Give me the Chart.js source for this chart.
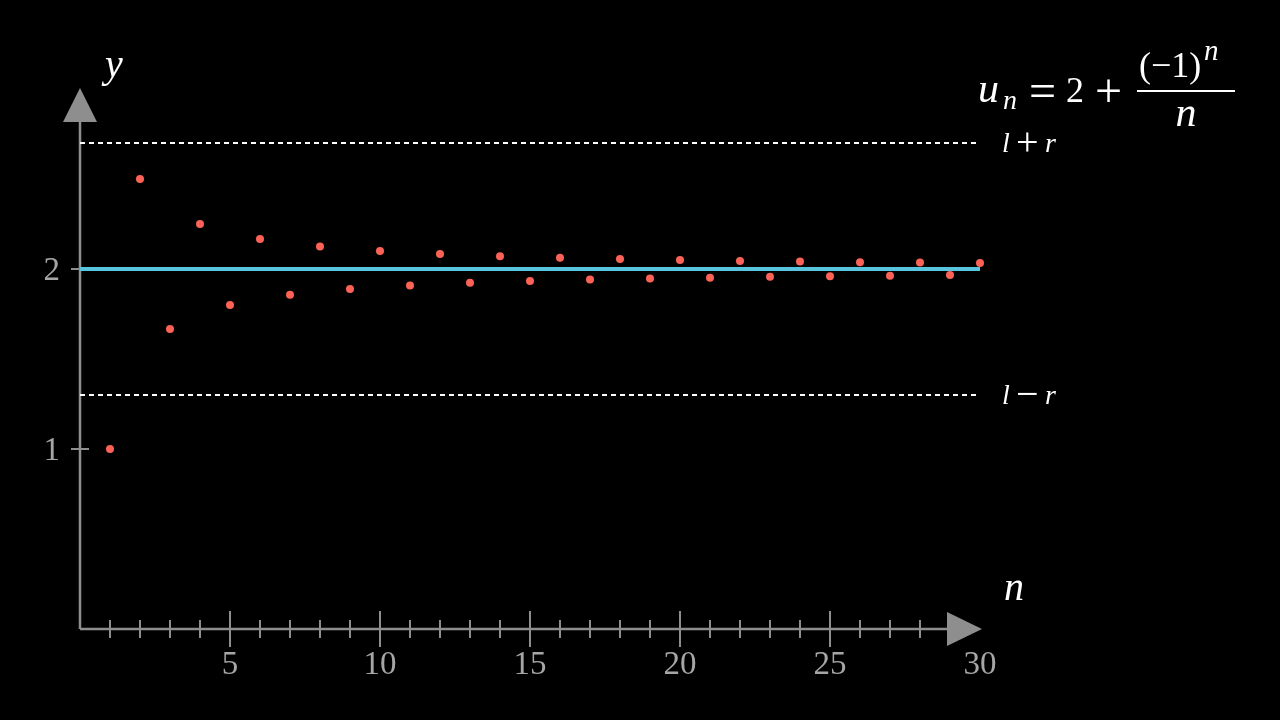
<!DOCTYPE html>
<html>
<head>
<meta charset="utf-8">
<script src="https://cdn.jsdelivr.net/npm/chart.js@4"></script>
<style>
  html, body { margin: 0; padding: 0; background: #000; }
  canvas { display: block; }
</style>
</head>
<body>
<canvas id="myChart" width="1280" height="720"></canvas>
<script>
// sequence u_n = 2 + (-1)^n / n
const nValues = [1, 2, 3, 4, 5, 6, 7, 8, 9, 10, 11, 12, 13, 14, 15,
                 16, 17, 18, 19, 20, 21, 22, 23, 24, 25, 26, 27, 28, 29, 30];
const uValues = [1, 2.5, 1.667, 2.25, 1.8, 2.167, 1.857, 2.125, 1.889, 2.1,
                 1.909, 2.083, 1.923, 2.071, 1.933, 2.063, 1.941, 2.056, 1.947, 2.05,
                 1.952, 2.045, 1.957, 2.042, 1.96, 2.038, 1.963, 2.036, 1.966, 2.033];

const xRange = [0, 30];
const yRange = [0, 3];
const limitValue = 2;
const upperBound = 2.7;  // l + r
const lowerBound = 1.3;  // l - r

const xMinorTicks = [1, 2, 3, 4, 6, 7, 8, 9, 11, 12, 13, 14, 16, 17, 18, 19,
                     21, 22, 23, 24, 26, 27, 28, 29];
const xMajorTicks = [5, 10, 15, 20, 25];
const xTickLabels = [5, 10, 15, 20, 25, 30];
const yTickValues = [1, 2];

const RED = '#FC6255';
const BLUE = '#58C4DD';
const AXIS = '#8e8e8e';
const LABEL = '#a6a6a6';
const SERIF = "'Liberation Serif', 'DejaVu Serif', serif";

const hLine = v => xRange.map(x => ({ x: x, y: v }));

// axes drawn manim-style (ticks crossing the axis, arrow heads)
const axesPlugin = {
  id: 'axes',
  beforeDatasetsDraw(chart) {
    const ctx = chart.ctx;
    const xs = chart.scales.x, ys = chart.scales.y;
    const x0 = xs.getPixelForValue(0), y0 = ys.getPixelForValue(0);
    const xEnd = xs.getPixelForValue(xRange[1]) + 2;
    const yEnd = ys.getPixelForValue(yRange[1]);
    ctx.save();
    ctx.strokeStyle = AXIS;
    ctx.fillStyle = AXIS;
    ctx.lineWidth = 2.5;
    ctx.beginPath();
    ctx.moveTo(x0, y0); ctx.lineTo(xEnd - 30, y0);
    ctx.moveTo(x0, y0); ctx.lineTo(x0, yEnd + 30);
    ctx.stroke();
    ctx.lineWidth = 2;
    ctx.beginPath();
    xMinorTicks.forEach(v => {
      const px = xs.getPixelForValue(v);
      ctx.moveTo(px, y0 - 9); ctx.lineTo(px, y0 + 9);
    });
    xMajorTicks.forEach(v => {
      const px = xs.getPixelForValue(v);
      ctx.moveTo(px, y0 - 18); ctx.lineTo(px, y0 + 18);
    });
    yTickValues.forEach(v => {
      const py = ys.getPixelForValue(v);
      ctx.moveTo(x0 - 9, py); ctx.lineTo(x0 + 9, py);
    });
    ctx.stroke();
    // arrow heads
    ctx.beginPath();
    ctx.moveTo(xEnd, y0); ctx.lineTo(xEnd - 35, y0 - 17); ctx.lineTo(xEnd - 35, y0 + 17);
    ctx.closePath(); ctx.fill();
    ctx.beginPath();
    ctx.moveTo(x0, yEnd - 1); ctx.lineTo(x0 - 17, yEnd + 33); ctx.lineTo(x0 + 17, yEnd + 33);
    ctx.closePath(); ctx.fill();
    ctx.restore();
  },
  afterDraw(chart) {
    const ctx = chart.ctx;
    const xs = chart.scales.x, ys = chart.scales.y;
    const y0 = ys.getPixelForValue(0), x0 = xs.getPixelForValue(0);
    ctx.save();
    ctx.fillStyle = LABEL;
    ctx.font = '33px ' + SERIF;
    ctx.textAlign = 'center';
    ctx.textBaseline = 'alphabetic';
    xTickLabels.forEach(v => ctx.fillText(String(v), xs.getPixelForValue(v), y0 + 45));
    ctx.textAlign = 'right';
    yTickValues.forEach(v => ctx.fillText(String(v), x0 - 20, ys.getPixelForValue(v) + 11));

    ctx.fillStyle = '#ffffff';
    ctx.textAlign = 'left';
    // axis names
    ctx.font = 'italic 40px ' + SERIF;
    ctx.fillText('y', 105, 77);
    ctx.fillText('n', 1004, 600);

    // bound labels
    const xr = xs.getPixelForValue(xRange[1]);
    [[upperBound, '+'], [lowerBound, '\u2212']].forEach(([v, op]) => {
      const py = ys.getPixelForValue(v) + 9;
      ctx.font = 'italic 28px ' + SERIF;
      ctx.fillText('l', 1002, py);
      ctx.font = '40px ' + SERIF;
      ctx.fillText(op, 1016, py + 3);
      ctx.font = 'italic 28px ' + SERIF;
      ctx.fillText('r', 1045, py);
    });

    // formula  u_n = 2 + (-1)^n / n
    ctx.font = 'italic 42px ' + SERIF;
    ctx.fillText('u', 978, 102);
    ctx.font = 'italic 28px ' + SERIF;
    ctx.fillText('n', 1003, 109);
    ctx.font = '48px ' + SERIF;
    ctx.fillText('=', 1029, 107);
    ctx.font = '36px ' + SERIF;
    ctx.fillText('2', 1066, 102);
    ctx.font = '48px ' + SERIF;
    ctx.fillText('+', 1095, 107);
    ctx.fillRect(1137, 90, 98, 2);
    ctx.font = '36px ' + SERIF;
    ctx.fillText('(\u22121)', 1139, 77);
    ctx.font = 'italic 29px ' + SERIF;
    ctx.fillText('n', 1204, 60);
    ctx.font = 'italic 42px ' + SERIF;
    ctx.textAlign = 'center';
    ctx.fillText('n', 1186, 126);
    ctx.restore();
  }
};

const ctx = document.getElementById('myChart').getContext('2d');
const myChart = new Chart(ctx, {
  type: 'scatter',
  data: {
    datasets: [
      {
        type: 'line',
        data: hLine(upperBound),
        borderColor: '#ffffff',
        borderWidth: 2,
        borderDash: [5, 4],
        pointRadius: 0,
        clip: false
      },
      {
        type: 'line',
        data: hLine(lowerBound),
        borderColor: '#ffffff',
        borderWidth: 2,
        borderDash: [5, 4],
        pointRadius: 0,
        clip: false
      },
      {
        type: 'line',
        data: hLine(limitValue),
        borderColor: BLUE,
        borderWidth: 4,
        pointRadius: 0,
        clip: false
      },
      {
        data: nValues.map((n, i) => ({ x: n, y: uValues[i] })),
        backgroundColor: RED,
        borderWidth: 0,
        pointRadius: 4,
        clip: false
      }
    ]
  },
  options: {
    responsive: false,
    animation: false,
    layout: { padding: { left: 80, right: 300, top: 89, bottom: 91 } },
    plugins: { legend: { display: false }, tooltip: { enabled: false } },
    scales: {
      x: { type: 'linear', min: xRange[0], max: xRange[1], display: false },
      y: { type: 'linear', min: yRange[0], max: yRange[1], display: false }
    }
  },
  plugins: [axesPlugin]
});
</script>
</body>
</html>
